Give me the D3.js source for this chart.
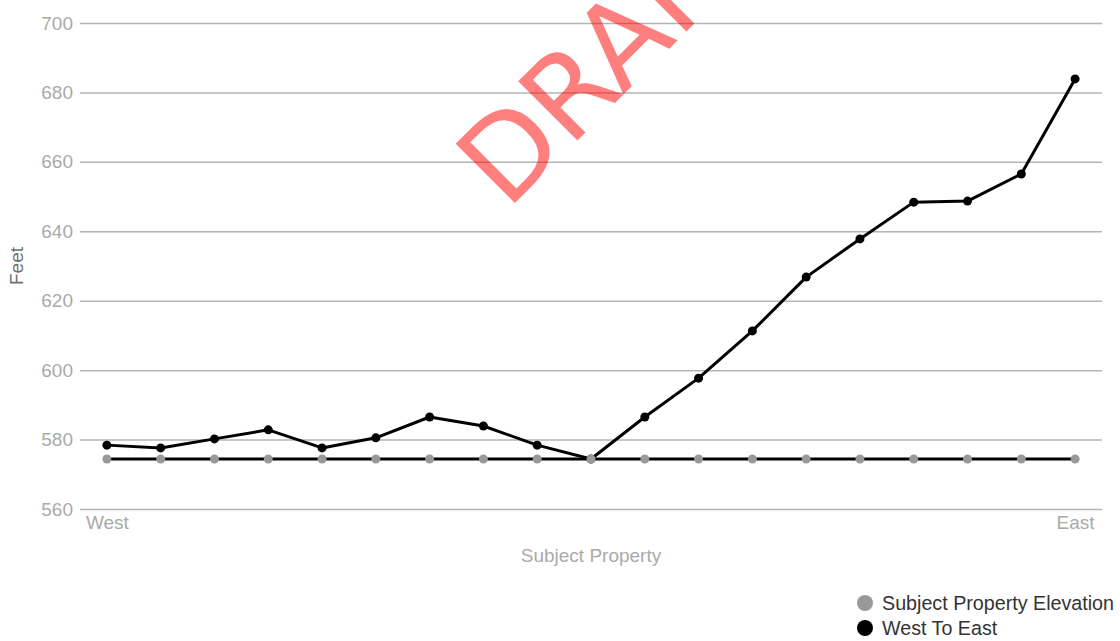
<!DOCTYPE html>
<html>
<head>
<meta charset="utf-8">
<script src="https://cdn.jsdelivr.net/npm/d3@7"></script>
<style>
  body { margin: 0; background: #fff; }
  svg { display: block; }
</style>
</head>
<body>
<div id="chart"></div>
<script>
// elevation profile (feet)
var westToEast = [578.4, 577.6, 580.2, 582.8, 577.6, 580.5, 586.5, 583.9, 578.4, 574.4,
                  586.5, 597.7, 611.3, 626.8, 637.8, 648.4, 648.7, 656.5, 683.9];
var subjectElev = [574.4, 574.4, 574.4, 574.4, 574.4, 574.4, 574.4, 574.4, 574.4, 574.4,
                   574.4, 574.4, 574.4, 574.4, 574.4, 574.4, 574.4, 574.4, 574.4];
var xLabels = ["West", "", "", "", "", "", "", "", "", "", "", "", "", "", "", "", "", "", "East"];
var yTicks = [560, 580, 600, 620, 640, 660, 680, 700];
var legendNames = ["Subject Property Elevation", "West To East"];

var W = 1120, H = 641;
// plot box (don't call it "top", that's window.top)
var pl = 80, pr = 1102, pt = 23, pb = 509;

var svg = d3.select('#chart').append('svg')
    .attr('width', W)
    .attr('height', H)
    .style('font-family', '"Liberation Sans", Arial, sans-serif');

var x = d3.scalePoint()
    .domain(d3.range(westToEast.length))
    .range([pl, pr])
    .padding(0.5);

var y = d3.scaleLinear()
    .domain([560, 700])
    .range([pb, pt]);

// grid + y labels
var yAxis = d3.axisLeft(y)
    .tickValues(yTicks)
    .tickSize(-(pr - pl))
    .tickPadding(7)
    .tickFormat(d3.format('d'));

var gy = svg.append('g')
    .attr('transform', 'translate(' + pl + ',0)')
    .call(yAxis);
gy.select('.domain').remove();
gy.selectAll('.tick line')
    .attr('stroke', '#b4b4b4')
    .attr('stroke-width', 1.5);
gy.selectAll('.tick text')
    .attr('fill', '#aaa')
    .style('font-size', '19px');

// x axis: only end labels
var xAxis = d3.axisBottom(x)
    .tickSize(0)
    .tickPadding(7)
    .tickFormat(function (i) { return xLabels[i]; });

var gx = svg.append('g')
    .attr('transform', 'translate(0,' + pb + ')')
    .call(xAxis);
gx.select('.domain').remove();
gx.selectAll('.tick text')
    .attr('fill', '#aaa')
    .style('font-size', '19px');

svg.append('text')
    .attr('x', x(9))
    .attr('y', 562)
    .attr('text-anchor', 'middle')
    .attr('fill', '#aaa')
    .style('font-size', '19px')
    .text('Subject Property');

svg.append('text')
    .attr('transform', 'translate(23,' + ((pt + pb) / 2) + ') rotate(-90)')
    .attr('text-anchor', 'middle')
    .attr('fill', '#707070')
    .style('font-size', '19px')
    .text('Feet');

// lines
var line = d3.line()
    .x(function (d, i) { return x(i); })
    .y(function (d) { return y(d); });

var series = [
    { values: westToEast, dot: '#000' },
    { values: subjectElev, dot: '#999' }
];

series.forEach(function (s) {
    svg.append('path')
        .datum(s.values)
        .attr('d', line)
        .attr('fill', 'none')
        .attr('stroke', '#000')
        .attr('stroke-width', 3)
        .attr('stroke-linejoin', 'round');

    svg.append('g').selectAll('circle')
        .data(s.values)
        .enter().append('circle')
        .attr('cx', function (d, i) { return x(i); })
        .attr('cy', function (d) { return y(d); })
        .attr('r', 4.5)
        .attr('fill', s.dot);
});

// legend
var legendColors = ['#999', '#000'];
var lg = svg.append('g').selectAll('g')
    .data(legendNames)
    .enter().append('g')
    .attr('transform', function (d, i) { return 'translate(865,' + (603 + i * 25) + ')'; });
lg.append('circle')
    .attr('r', 8)
    .attr('fill', function (d, i) { return legendColors[i]; });
lg.append('text')
    .attr('x', 17)
    .attr('dy', '0.35em')
    .attr('fill', '#333')
    .style('font-size', '19.7px')
    .text(function (d) { return d; });

// watermark
svg.append('text')
    .attr('transform', 'translate(507,211) rotate(-45)')
    .attr('fill', 'rgba(255,0,0,0.5)')
    .style('font-family', '"DejaVu Sans", sans-serif')
    .style('font-size', '115px')
    .text('DRAFT');
</script>
</body>
</html>
